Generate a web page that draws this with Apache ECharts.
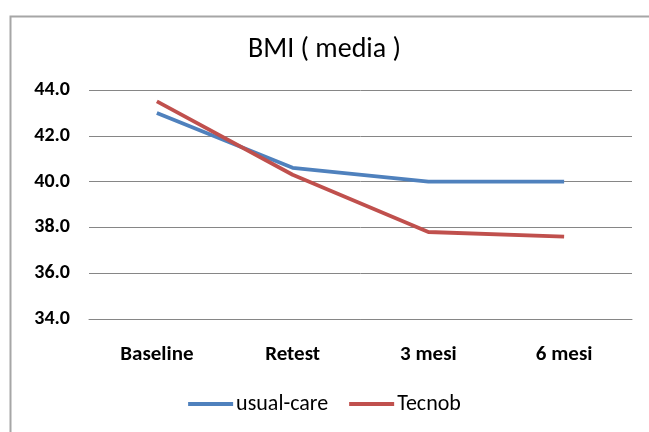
<!DOCTYPE html>
<html>
<head>
<meta charset="utf-8">
<script src="https://cdn.jsdelivr.net/npm/echarts@6/dist/echarts.min.js"></script>
<style>
  html, body { margin: 0; padding: 0; background: #ffffff; }
  #chart { width: 649px; height: 432px; }
</style>
</head>
<body>
<div id="chart"></div>
<script>
// BMI means per follow-up visit
const categories = ['Baseline', 'Retest', '3 mesi', '6 mesi'];
const usualCare = [43.0, 40.6, 40.0, 40.0];
const tecnob = [43.5, 40.3, 37.8, 37.6];
const yTicks = { min: 34, max: 44, interval: 2 };

const FONT = 'Carlito, "Liberation Sans Narrow", "Open Sans", sans-serif';

const chart = echarts.init(document.getElementById('chart'));
chart.setOption({
  animation: false,
  backgroundColor: '#ffffff',
  graphic: [{
    type: 'rect',
    left: 8, top: 14,
    shape: { width: 700, height: 460 },
    style: { fill: 'none', stroke: '#a6a6a6', lineWidth: 2 },
    silent: true
  }],
  title: {
    text: 'BMI ( media )',
    left: 'center',
    top: 31,
    textStyle: { fontFamily: FONT, fontSize: 28, fontWeight: 'normal', color: '#000000' }
  },
  grid: { left: 89, right: 17, top: 90, bottom: 113 },
  xAxis: {
    type: 'category',
    data: categories,
    boundaryGap: true,
    axisLine: { show: true, lineStyle: { color: '#868686', width: 1 } },
    axisTick: { show: false },
    axisLabel: { fontFamily: FONT, fontSize: 21, fontWeight: 'bold', color: '#000000', margin: 25 }
  },
  yAxis: {
    type: 'value',
    min: yTicks.min, max: yTicks.max, interval: yTicks.interval,
    axisLine: { show: false },
    axisTick: { show: false },
    splitLine: { lineStyle: { color: '#868686', width: 1 } },
    axisLabel: {
      fontFamily: FONT, fontSize: 20, fontWeight: 'bold', color: '#000000', margin: 19,
      formatter: v => v.toFixed(1)
    }
  },
  legend: {
    bottom: 12,
    left: 'center',
    itemWidth: 45,
    itemHeight: 4,
    itemGap: 21,
    icon: 'rect',
    textStyle: { fontFamily: FONT, fontSize: 22, color: '#000000', padding: [0, 0, 0, -2] },
    data: ['usual-care', 'Tecnob']
  },
  series: [
    {
      name: 'usual-care', type: 'line', data: usualCare,
      symbol: 'none', itemStyle: { color: '#4f81bd' },
      lineStyle: { color: '#4f81bd', width: 3.8 }
    },
    {
      name: 'Tecnob', type: 'line', data: tecnob,
      symbol: 'none', itemStyle: { color: '#c0504d' },
      lineStyle: { color: '#c0504d', width: 3.8 }
    }
  ]
});
</script>
</body>
</html>
